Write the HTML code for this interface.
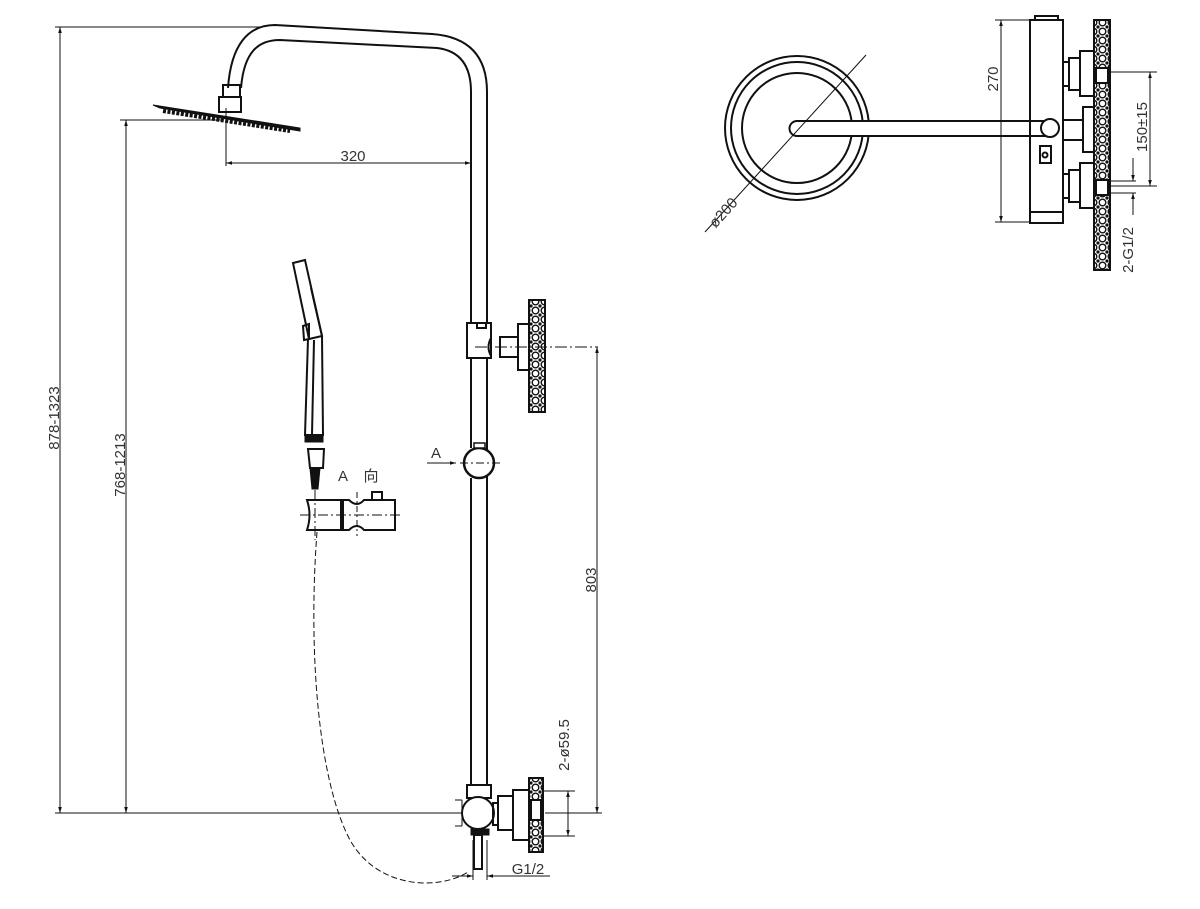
<!DOCTYPE html>
<html><head><meta charset="utf-8"><style>
html,body{margin:0;padding:0;background:#fff}
svg{display:block}
text{font-family:"Liberation Sans","Noto Sans CJK SC",sans-serif;font-size:15px;fill:#333}
</style></head><body>
<svg width="1200" height="909" viewBox="0 0 1200 909" xmlns="http://www.w3.org/2000/svg">
<defs>
<pattern id="peb" width="9" height="9" patternUnits="userSpaceOnUse">
<rect width="9" height="9" fill="#fff"/>
<circle cx="4.5" cy="4.5" r="3.3" fill="none" stroke="#111" stroke-width="1.4"/>
<circle cx="0" cy="0" r="1.6" fill="#111"/><circle cx="9" cy="9" r="1.6" fill="#111"/><circle cx="9" cy="0" r="1.6" fill="#111"/><circle cx="0" cy="9" r="1.6" fill="#111"/>
</pattern>
<marker id="ar" viewBox="0 0 10 10" refX="10" refY="5" markerWidth="9" markerHeight="6" orient="auto-start-reverse"><path d="M0,2 L10,5 L0,8 z" fill="#111"/></marker>
</defs>
<g stroke="#111" fill="none" stroke-width="1">
<line x1="55" y1="27" x2="262" y2="27"/>
<line x1="55" y1="813" x2="465" y2="813"/>
<line x1="60" y1="27" x2="60" y2="813" marker-start="url(#ar)" marker-end="url(#ar)"/>
<line x1="120" y1="120" x2="222" y2="120"/>
<line x1="126" y1="120" x2="126" y2="813" marker-start="url(#ar)" marker-end="url(#ar)"/>
<g stroke-width="2">
<path d="M228,88 C231,45 248,25 275,25 L432,34 Q487,38 487,92 L487,785"/>
<path d="M241,88 C244,52 258,40 280,40 L437,48 Q471,52 471,92 L471,323"/>
<line x1="471" y1="358" x2="471" y2="448"/>
<line x1="487" y1="358" x2="487" y2="448"/>
<line x1="471" y1="478" x2="471" y2="785"/>
<line x1="487" y1="478" x2="487" y2="785"/>
<rect x="223" y="85" width="17" height="12"/>
<rect x="219" y="97" width="22" height="15"/>
</g>
<path d="M153,105 L300,128 L300,131 L160,108 z" fill="#111" stroke-width="1"/>
<line x1="163" y1="111" x2="290" y2="131" stroke-width="4" stroke-dasharray="3,1.5"/>
<line x1="226" y1="108" x2="226" y2="166"/>
<line x1="226" y1="163" x2="471" y2="163" marker-start="url(#ar)" marker-end="url(#ar)"/>
<g stroke-width="2">
<rect x="467" y="323" width="24" height="35" fill="#fff"/>
<rect x="477" y="323" width="9" height="5"/>
<path d="M491,338 Q486,347 491,356"/>
<rect x="500" y="337" width="18" height="20"/>
<rect x="518" y="324" width="11" height="46"/>
<rect x="529" y="300" width="16" height="112" fill="url(#peb)"/>
</g>
<line x1="475" y1="347" x2="598" y2="347" stroke-dasharray="12,3,2,3"/>
<line x1="597" y1="347" x2="597" y2="813" marker-start="url(#ar)" marker-end="url(#ar)"/>
<line x1="545" y1="813" x2="602" y2="813"/>
<g stroke-width="2.5">
<circle cx="479" cy="463" r="15" fill="#fff"/>
<rect x="474" y="443" width="11" height="5" fill="#fff" stroke-width="1.5"/>
</g>
<line x1="460" y1="463" x2="500" y2="463" stroke-dasharray="8,3,2,3"/>
<line x1="427" y1="463" x2="456" y2="463" marker-end="url(#ar)"/>
<g stroke-width="2">
<path d="M293,263 L305,260 L322,336 L309,339 z"/>
<path d="M311,288 L322,336"/>
<path d="M303,326 L309,324 L309,339 L304,340 z"/>
<path d="M308,339 L305,435 L323,435 L322,336"/>
<line x1="314" y1="340" x2="312" y2="435"/>
</g>
<rect x="305" y="435" width="18" height="7" fill="#111"/>
<path d="M308,449 L324,449 L323,468 L310,468 z" stroke-width="2"/>
<path d="M310,468 L320,468 L318,489 L312,489 z" fill="#111"/>
<g stroke-width="2">
<path d="M307,500 L341,500 L341,530 L307,530 Q312,515 307,500 z"/>
<path d="M343,500 L349,500 Q357,508 364,500 L395,500 L395,530 L364,530 Q357,522 349,530 L343,530 z"/>
<rect x="372" y="492" width="10" height="8"/>
</g>
<line x1="300" y1="515" x2="400" y2="515" stroke-dasharray="10,3,2,3"/>
<line x1="315" y1="490" x2="315" y2="540" stroke-dasharray="10,3,2,3"/>
<line x1="357" y1="492" x2="357" y2="536" stroke-dasharray="6,3,2,3"/>
<path d="M317,532 C308,650 318,780 350,840 C378,890 440,890 468,872" stroke-dasharray="6,3"/>
<g stroke-width="2">
<rect x="467" y="785" width="24" height="13" fill="#fff"/>
<circle cx="478" cy="813" r="16" fill="#fff"/>
<rect x="493" y="803" width="5" height="22"/>
<rect x="498" y="796" width="15" height="34"/>
<rect x="513" y="790" width="16" height="50"/>
<rect x="529" y="778" width="14" height="74" fill="url(#peb)"/>
<rect x="531" y="800" width="10" height="20" fill="#fff"/>
<rect x="474" y="835" width="8" height="34"/>
</g>
<rect x="471" y="829" width="18" height="6" fill="#111"/>
<line x1="462" y1="800" x2="462" y2="826"/>
<line x1="455" y1="800" x2="462" y2="800"/>
<line x1="455" y1="826" x2="462" y2="826"/>
<line x1="543" y1="791" x2="575" y2="791"/>
<line x1="543" y1="836" x2="575" y2="836"/>
<line x1="568" y1="791" x2="568" y2="836" marker-start="url(#ar)" marker-end="url(#ar)"/>
<line x1="473" y1="840" x2="473" y2="880"/>
<line x1="487" y1="840" x2="487" y2="880"/>
<line x1="452" y1="876" x2="473" y2="876" marker-end="url(#ar)"/>
<line x1="507" y1="876" x2="487" y2="876" marker-end="url(#ar)"/>
<line x1="487" y1="876" x2="550" y2="876"/>
<g stroke-width="2">
<circle cx="797" cy="128" r="72"/>
<circle cx="797" cy="128" r="66"/>
<circle cx="797" cy="128" r="55"/>
<path d="M797,121 L1050,121 L1050,136 L797,136 A7.5,7.5 0 0 1 797,121 z" fill="#fff"/>
<circle cx="1050" cy="128" r="9" fill="#fff"/>
<rect x="1030" y="20" width="33" height="203"/>
<rect x="1035" y="16" width="23" height="4"/>
<rect x="1030" y="212" width="33" height="11"/>
<rect x="1040" y="146" width="11" height="17"/>
<circle cx="1045" cy="155" r="2.5"/>
<rect x="1063" y="62" width="6" height="24"/>
<rect x="1069" y="58" width="11" height="32"/>
<rect x="1080" y="51" width="14" height="45"/>
<rect x="1063" y="120" width="20" height="20"/>
<rect x="1083" y="107" width="11" height="45"/>
<rect x="1063" y="174" width="6" height="24"/>
<rect x="1069" y="170" width="11" height="32"/>
<rect x="1080" y="163" width="14" height="45"/>
<rect x="1094" y="20" width="16" height="250" fill="url(#peb)"/>
<rect x="1096" y="68" width="12" height="15" fill="#fff"/>
<rect x="1096" y="180" width="12" height="15" fill="#fff"/>
</g>
<line x1="705" y1="232" x2="866" y2="55"/>
<line x1="995" y1="20" x2="1030" y2="20"/>
<line x1="995" y1="222" x2="1030" y2="222"/>
<line x1="1001" y1="20" x2="1001" y2="222" marker-start="url(#ar)" marker-end="url(#ar)"/>
<line x1="1110" y1="72" x2="1157" y2="72"/>
<line x1="1110" y1="186" x2="1157" y2="186"/>
<line x1="1150" y1="72" x2="1150" y2="186" marker-start="url(#ar)" marker-end="url(#ar)"/>
<line x1="1110" y1="181" x2="1136" y2="181"/>
<line x1="1110" y1="193" x2="1136" y2="193"/>
<line x1="1133" y1="158" x2="1133" y2="181" marker-end="url(#ar)"/>
<line x1="1133" y1="215" x2="1133" y2="193" marker-end="url(#ar)"/>
</g>
<text x="353" y="161" text-anchor="middle">320</text>
<text transform="translate(59,418) rotate(-90)" text-anchor="middle">878-1323</text>
<text transform="translate(125,465) rotate(-90)" text-anchor="middle">768-1213</text>
<text transform="translate(596,580) rotate(-90)" text-anchor="middle">803</text>
<text transform="translate(569,745) rotate(-90)" text-anchor="middle">2-ø59.5</text>
<text x="528" y="874" text-anchor="middle">G1/2</text>
<text x="436" y="458" text-anchor="middle">A</text>
<text x="343" y="481" text-anchor="middle">A</text>
<text x="371" y="481" text-anchor="middle">向</text>
<text transform="translate(727,216) rotate(-48)" text-anchor="middle">ø200</text>
<text transform="translate(998,79) rotate(-90)" text-anchor="middle">270</text>
<text transform="translate(1147,127) rotate(-90)" text-anchor="middle">150±15</text>
<text transform="translate(1133,250) rotate(-90)" text-anchor="middle">2-G1/2</text>
</svg>
</body></html>
